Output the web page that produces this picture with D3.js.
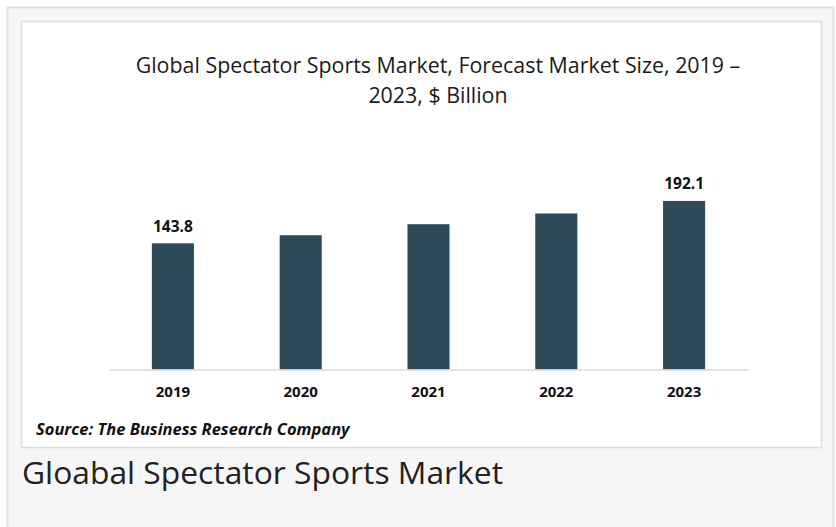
<!DOCTYPE html>
<html>
<head>
<meta charset="utf-8">
<script src="https://cdn.jsdelivr.net/npm/d3@7"></script>
<style>
  html, body { margin: 0; padding: 0; background: #ffffff; }
  svg { display: block; }
</style>
</head>
<body>
<svg id="chart" width="836" height="527"></svg>
<script>
const years = ["2019", "2020", "2021", "2022", "2023"];
const marketSize = [143.8, 153.0, 165.6, 177.8, 192.1];
const labelledYears = ["2019", "2023"];
const titleLines = ["Global Spectator Sports Market, Forecast Market Size, 2019 \u2013", "2023, $ Billion"];
const sourceText = "Source: The Business Research Company";
const captionText = "Gloabal Spectator Sports Market";

const svg = d3.select("#chart");

// outer card
svg.append("rect")
  .attr("x", 7.5).attr("y", 7.5).attr("width", 826).attr("height", 530)
  .attr("fill", "#f6f6f6").attr("stroke", "#e2e2e2").attr("stroke-width", 2);

// inner white image area
svg.append("rect")
  .attr("x", 21.5).attr("y", 21.5).attr("width", 800).attr("height", 426)
  .attr("fill", "#ffffff").attr("stroke", "#dcdcdc").attr("stroke-width", 1.5);

// title
const title = svg.append("text")
  .attr("font-family", "Open Sans, sans-serif")
  .attr("font-size", 21.4)
  .attr("fill", "#1a1a1a")
  .attr("text-anchor", "middle");
titleLines.forEach((line, i) => {
  title.append("tspan").attr("x", 438).attr("y", 73 + i * 30).text(line);
});

const x = d3.scaleBand()
  .domain(years)
  .range([109, 748])
  .paddingInner(0.671)
  .paddingOuter(0.3355);

const y = d3.scaleLinear()
  .domain([0, 200])
  .range([369.5, 369.5 - 200 * 0.8775]);

const data = years.map((yr, i) => ({ year: yr, value: marketSize[i] }));

svg.append("g").selectAll("rect")
  .data(data)
  .join("rect")
  .attr("x", d => x(d.year))
  .attr("y", d => y(d.value))
  .attr("width", x.bandwidth())
  .attr("height", d => y(0) - y(d.value))
  .attr("fill", "#2e4a59");

// axis
const axis = svg.append("g")
  .attr("transform", `translate(0,${y(0)})`)
  .call(d3.axisBottom(x).tickSize(0).tickPadding(16.8));
axis.select(".domain").attr("stroke", "#d9d9d9").attr("stroke-width", 1.5);
axis.selectAll("text")
  .attr("font-family", "Open Sans, sans-serif")
  .attr("font-size", 15)
  .attr("font-weight", "bold")
  .attr("fill", "#111111");

// value labels
svg.append("g").selectAll("text")
  .data(data.filter(d => labelledYears.includes(d.year)))
  .join("text")
  .attr("x", d => x(d.year) + x.bandwidth() / 2)
  .attr("y", d => y(d.value) - 11.5)
  .attr("text-anchor", "middle")
  .attr("font-family", "Open Sans, sans-serif")
  .attr("font-size", 15.5)
  .attr("font-weight", "bold")
  .attr("fill", "#111111")
  .text(d => d.value.toFixed(1));

// source
svg.append("text")
  .attr("x", 36).attr("y", 435)
  .attr("font-family", "Open Sans, sans-serif")
  .attr("font-size", 16.5)
  .attr("font-weight", "bold")
  .attr("font-style", "italic")
  .attr("fill", "#111111")
  .text(sourceText);

// caption
svg.append("text")
  .attr("x", 22).attr("y", 484)
  .attr("font-family", "Open Sans, sans-serif")
  .attr("font-size", 31.8)
  .attr("fill", "#222222")
  .text(captionText);
</script>
</body>
</html>
